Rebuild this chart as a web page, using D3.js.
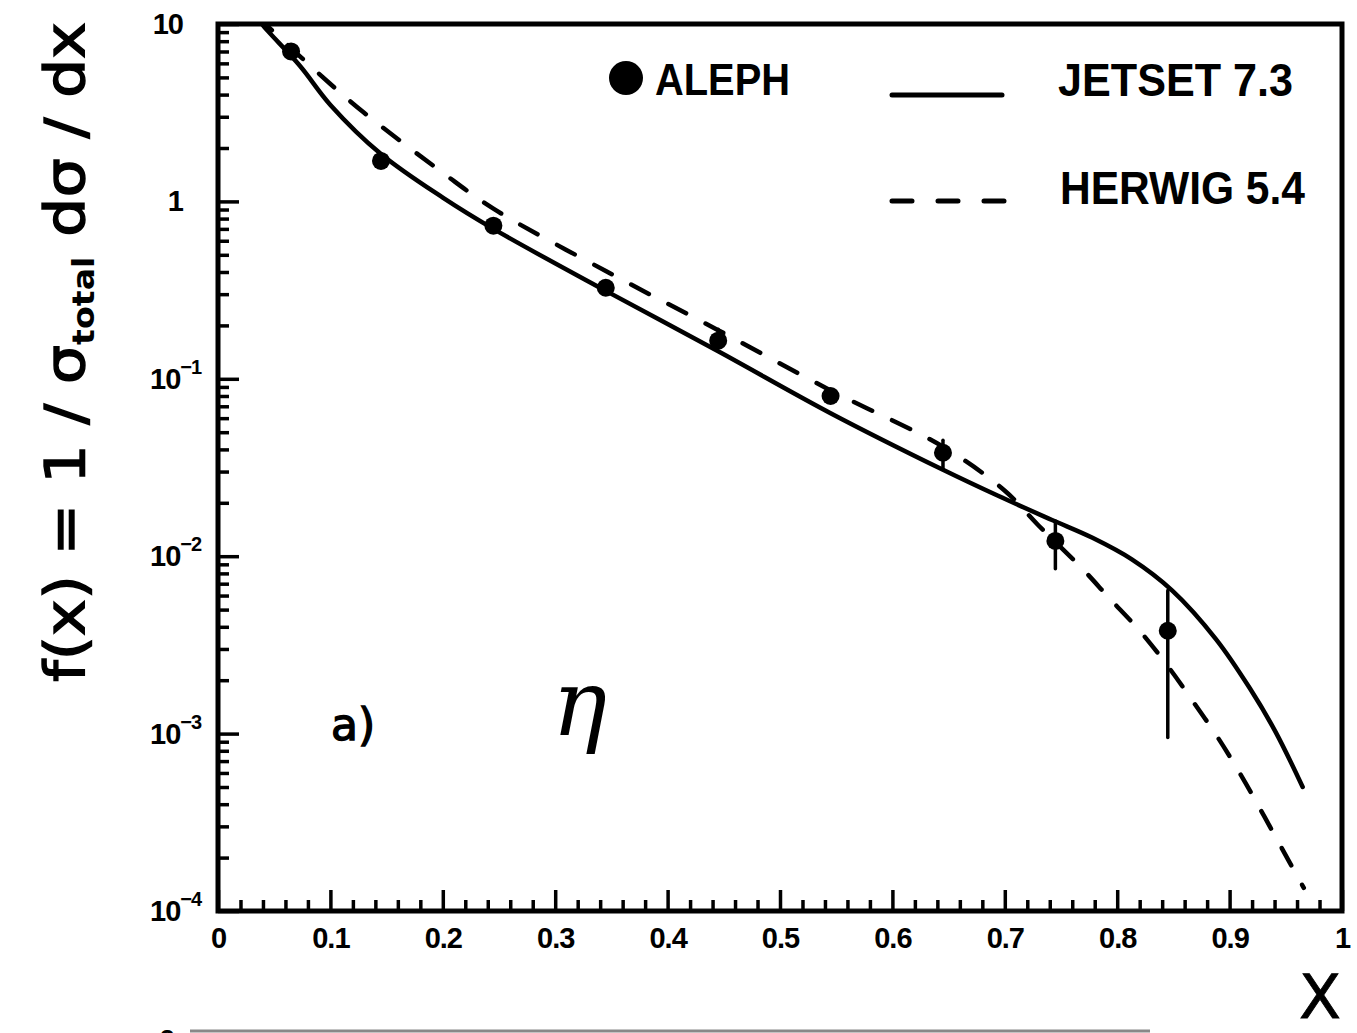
<!DOCTYPE html>
<html>
<head>
<meta charset="utf-8">
<script src="https://cdn.jsdelivr.net/npm/d3@7"></script>
<style>
  body { margin: 0; background: #fff; }
  svg { display: block; }
  text { fill: #000; }
</style>
</head>
<body>
<div id="chart"></div>
<script>
var width = 1357,
    height = 1033;

// ALEPH eta data
var alephX = [0.065, 0.145, 0.245, 0.345, 0.445, 0.545, 0.645, 0.745, 0.845];
var alephY = [7.0, 1.69, 0.73, 0.326, 0.164, 0.080, 0.0383, 0.0122, 0.0038];
var alephLo = [6.6, 1.6, 0.70, 0.315, 0.150, 0.076, 0.031, 0.0085, 0.00095];
var alephHi = [7.4, 1.8, 0.76, 0.337, 0.190, 0.084, 0.045, 0.0158, 0.0064];

// JETSET 7.3 curve
var jetsetX = [0.035, 0.039, 0.073, 0.100, 0.145, 0.200, 0.245, 0.345, 0.445, 0.545, 0.645, 0.694, 0.742, 0.778, 0.813, 0.849, 0.888, 0.918, 0.941, 0.965];
var jetsetY = [11, 10, 5.8, 3.5, 1.85, 1.05, 0.70, 0.313, 0.143, 0.064, 0.0307, 0.0219, 0.0160, 0.0127, 0.0096, 0.0064, 0.0034, 0.0018, 0.00102, 0.0005];

// HERWIG 5.4 curve
var herwigX = [0.035, 0.042, 0.099, 0.130, 0.200, 0.245, 0.345, 0.445, 0.545, 0.645, 0.700, 0.730, 0.769, 0.793, 0.820, 0.845, 0.868, 0.890, 0.911, 0.931, 0.953, 0.966];
var herwigY = [11, 10, 4.65, 3.16, 1.45, 0.91, 0.405, 0.188, 0.086, 0.0414, 0.0234, 0.0149, 0.0085, 0.0058, 0.0038, 0.0024, 0.0015, 0.00094, 0.00057, 0.00034, 0.00019, 0.000135];

var xTickVals = [0, 0.1, 0.2, 0.3, 0.4, 0.5, 0.6, 0.7, 0.8, 0.9, 1];
var xTickLabels = ["0", "0.1", "0.2", "0.3", "0.4", "0.5", "0.6", "0.7", "0.8", "0.9", "1"];
var yDecades = [10, 1, 0.1, 0.01, 0.001, 0.0001];
var yBaseLabels = ["10", "1", "10", "10", "10", "10"];
var yExpLabels = ["", "", "\u22121", "\u22122", "\u22123", "\u22124"];

var legendNames = ["ALEPH", "JETSET 7.3", "HERWIG 5.4"];

var x = d3.scaleLinear().domain([0, 1]).range([218, 1342]);
var y = d3.scaleLog().domain([1e-4, 10]).range([911, 24]);

var svg = d3.select("#chart").append("svg")
    .attr("width", width)
    .attr("height", height);

svg.append("clipPath").attr("id", "plotclip")
  .append("rect")
    .attr("x", x(0)).attr("y", y(10))
    .attr("width", x(1) - x(0)).attr("height", y(1e-4) - y(10));

// minor + major ticks, x
var minorX = d3.range(0, 51).map(function(i) { return i / 50; })
    .filter(function(v) { return Math.round(v * 50) % 5 !== 0; });

svg.append("g")
    .attr("transform", "translate(0," + y(1e-4) + ")")
    .call(d3.axisBottom(x).tickValues(minorX).tickSizeInner(-11).tickSizeOuter(0).tickFormat(""))
    .call(function(g) { g.select(".domain").remove(); })
    .selectAll("line").attr("stroke-width", 3.5);

var xAxis = svg.append("g")
    .attr("transform", "translate(0," + y(1e-4) + ")")
    .call(d3.axisBottom(x).tickValues(xTickVals).tickSizeInner(-21).tickSizeOuter(0).tickPadding(16)
        .tickFormat(function(d, i) { return xTickLabels[i]; }));
xAxis.select(".domain").remove();
xAxis.selectAll("line").attr("stroke-width", 3.5);
xAxis.selectAll("text")
    .attr("font-family", "Liberation Sans, Arial, sans-serif")
    .attr("font-weight", "bold")
    .attr("font-size", 29)
    .attr("letter-spacing", -1)
    .attr("fill", "#000");

// minor + major ticks, y
var minorY = [];
for (var e = -4; e < 1; e++) {
    for (var m = 2; m < 10; m++) minorY.push(m * Math.pow(10, e));
}
svg.append("g")
    .attr("transform", "translate(" + x(0) + ",0)")
    .call(d3.axisLeft(y).tickValues(minorY).tickSizeInner(-11).tickSizeOuter(0).tickFormat(""))
    .call(function(g) { g.select(".domain").remove(); })
    .selectAll("line").attr("stroke-width", 3.5);

svg.append("g")
    .attr("transform", "translate(" + x(0) + ",0)")
    .call(d3.axisLeft(y).tickValues(yDecades).tickSizeInner(-21).tickSizeOuter(0).tickFormat(""))
    .call(function(g) { g.select(".domain").remove(); })
    .selectAll("line").attr("stroke-width", 3.5);

// y labels with exponents
var yl = svg.append("g")
    .attr("font-family", "Liberation Sans, Arial, sans-serif")
    .attr("font-weight", "bold");
yDecades.forEach(function(d, i) {
    var t = yl.append("text")
        .attr("y", y(d) + 10)
        .attr("font-size", 29)
        .attr("letter-spacing", -1);
    if (yExpLabels[i] === "") {
        t.attr("x", 183).attr("text-anchor", "end").text(yBaseLabels[i]);
    } else {
        t.attr("x", 150).text(yBaseLabels[i]);
        t.append("tspan")
            .attr("dx", 0).attr("dy", -15)
            .attr("font-size", 20)
            .text(yExpLabels[i]);
    }
});

// frame
svg.append("rect")
    .attr("x", x(0)).attr("y", y(10))
    .attr("width", x(1) - x(0)).attr("height", y(1e-4) - y(10))
    .attr("fill", "none").attr("stroke", "#000").attr("stroke-width", 5);

var line = d3.line()
    .x(function(d) { return x(d[0]); })
    .y(function(d) { return y(d[1]); })
    .curve(d3.curveCatmullRom.alpha(0.5));

var plot = svg.append("g").attr("clip-path", "url(#plotclip)");

plot.append("path")
    .datum(d3.zip(jetsetX, jetsetY))
    .attr("d", line)
    .attr("fill", "none").attr("stroke", "#000")
    .attr("stroke-width", 4.5).attr("stroke-linecap", "round");

plot.append("path")
    .datum(d3.zip(herwigX, herwigY))
    .attr("d", line)
    .attr("fill", "none").attr("stroke", "#000")
    .attr("stroke-width", 4.5).attr("stroke-linecap", "round")
    .attr("stroke-dasharray", "20,22");

// data
var pts = d3.range(alephX.length);
plot.selectAll("line.err").data(pts).enter().append("line")
    .attr("class", "err")
    .attr("x1", function(i) { return x(alephX[i]); })
    .attr("x2", function(i) { return x(alephX[i]); })
    .attr("y1", function(i) { return y(alephLo[i]); })
    .attr("y2", function(i) { return y(alephHi[i]); })
    .attr("stroke", "#000").attr("stroke-width", 3.5).attr("stroke-linecap", "round");

plot.selectAll("circle.pt").data(pts).enter().append("circle")
    .attr("class", "pt")
    .attr("cx", function(i) { return x(alephX[i]); })
    .attr("cy", function(i) { return y(alephY[i]); })
    .attr("r", 9)
    .attr("fill", "#000");

// legend
var lg = svg.append("g")
    .attr("font-family", "Liberation Sans, Arial, sans-serif")
    .attr("font-weight", "bold");
lg.append("circle").attr("cx", 626).attr("cy", 78).attr("r", 17).attr("fill", "#000");
lg.append("text").attr("x", 655).attr("y", 95).attr("font-size", 44)
    .attr("textLength", 135).attr("lengthAdjust", "spacingAndGlyphs").text(legendNames[0]);
lg.append("line").attr("x1", 892).attr("x2", 1002).attr("y1", 95).attr("y2", 95)
    .attr("stroke", "#000").attr("stroke-width", 5).attr("stroke-linecap", "round");
lg.append("text").attr("x", 1058).attr("y", 96).attr("font-size", 47)
    .attr("textLength", 235).attr("lengthAdjust", "spacingAndGlyphs").text(legendNames[1]);
lg.append("line").attr("x1", 892).attr("x2", 1004).attr("y1", 201).attr("y2", 201)
    .attr("stroke", "#000").attr("stroke-width", 5).attr("stroke-linecap", "round")
    .attr("stroke-dasharray", "20,26");
lg.append("text").attr("x", 1060).attr("y", 204).attr("font-size", 47)
    .attr("textLength", 245).attr("lengthAdjust", "spacingAndGlyphs").text(legendNames[2]);

// annotations
svg.append("text").attr("x", 331).attr("y", 740)
    .attr("font-family", "DejaVu Sans, sans-serif").attr("font-size", 44)
    .attr("stroke", "#000").attr("stroke-width", 1.4)
    .text("a)");
svg.append("text").attr("x", 552).attr("y", 735)
    .attr("font-family", "DejaVu Serif, serif").attr("font-style", "italic")
    .attr("font-size", 92)
    .text("\u03b7");

// axis titles
svg.append("text").attr("x", 1299).attr("y", 1018)
    .attr("font-family", "DejaVu Sans, sans-serif").attr("font-size", 60)
    .attr("stroke", "#000").attr("stroke-width", 0.8)
    .attr("textLength", 42).attr("lengthAdjust", "spacingAndGlyphs")
    .text("X");

var yt = svg.append("text")
    .attr("transform", "translate(84,352) rotate(-90)")
    .attr("text-anchor", "middle")
    .attr("font-family", "DejaVu Sans, sans-serif")
    .attr("font-size", 56)
    .attr("stroke", "#000").attr("stroke-width", 1.4)
    .attr("textLength", 660).attr("lengthAdjust", "spacingAndGlyphs");
yt.append("tspan").text("f(x) = 1 / \u03c3");
yt.append("tspan").attr("dy", 10).attr("font-size", 30).attr("font-weight", "bold").attr("stroke-width", 0).text("total");
yt.append("tspan").attr("dy", -10).text(" d\u03c3 / dx");

// top of the next panel, cut off at the page edge
svg.append("line").attr("x1", 190).attr("x2", 1150).attr("y1", 1031).attr("y2", 1031)
    .attr("stroke", "#888").attr("stroke-width", 3);
svg.append("text").attr("x", 160).attr("y", 1048)
    .attr("font-family", "Liberation Sans, Arial, sans-serif").attr("font-weight", "bold")
    .attr("font-size", 26).text("2");
</script>
</body>
</html>
